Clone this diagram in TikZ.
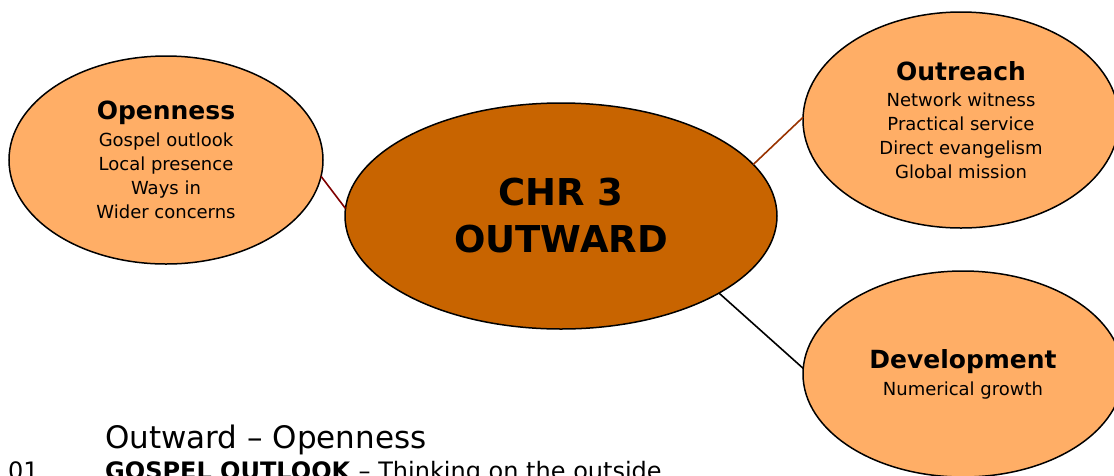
\documentclass[tikz,border=0pt]{standalone}
\usepackage{fontspec}
\setmainfont{DejaVu Sans}
\usetikzlibrary{shapes.geometric}

\definecolor{coreorange}{RGB}{200,100,0}
\definecolor{petalorange}{RGB}{255,174,102}
\definecolor{openred}{RGB}{128,0,0}
\definecolor{reachbrown}{RGB}{153,51,0}

\tikzset{
  bubble/.style={ellipse, draw=black, line width=1.5pt, inner sep=0pt, outer sep=0pt, align=center},
  petal/.style={bubble, fill=petalorange, font=\fontsize{18}{24}\selectfont},
  core/.style={bubble, fill=coreorange, font=\bfseries\fontsize{37}{47}\selectfont},
  spoke/.style={line width=1.6pt},
  caption/.style={anchor=base west, inner sep=0pt}
}
\newcommand{\petalhead}[1]{{\bfseries\fontsize{25}{27}\selectfont #1}}

\begin{document}
\begin{tikzpicture}[x=1pt,y=-1pt]
  \clip (0,0) rectangle (1114,475);
  \node[core, minimum width=432pt, minimum height=226pt] (chr) at (561,216) {CHR 3\\OUTWARD};
  \node[petal, minimum width=314pt, minimum height=208pt] (open) at (166,160)
    {\petalhead{Openness}\\[3pt]Gospel outlook\\Local presence\\Ways in\\Wider concerns};
  \node[petal, minimum width=316pt, minimum height=216pt] (reach) at (961,120)
    {\petalhead{Outreach}\\[2pt]Network witness\\Practical service\\Direct evangelism\\Global mission};
  \node[petal, minimum width=320pt, minimum height=206pt] (grow) at (963,374)
    {\petalhead{Development}\\[3pt]Numerical growth};
  \draw[spoke, openred] (open.-6) -- (chr.178);
  \draw[spoke, reachbrown] (chr.15) -- (reach.179);
  \draw[spoke, black] (chr.-26) -- (grow.178);
  \node[caption, font=\fontsize{31}{36}\selectfont] (title) at (105,448) {Outward -- Openness};
  \node[caption, font=\fontsize{24}{28}\selectfont] (num) at (8,479) {01};
  \node[caption, font=\fontsize{24}{28}\selectfont] (item) at (105,479) {\textbf{GOSPEL OUTLOOK} -- Thinking on the outside};
\end{tikzpicture}
\end{document}
